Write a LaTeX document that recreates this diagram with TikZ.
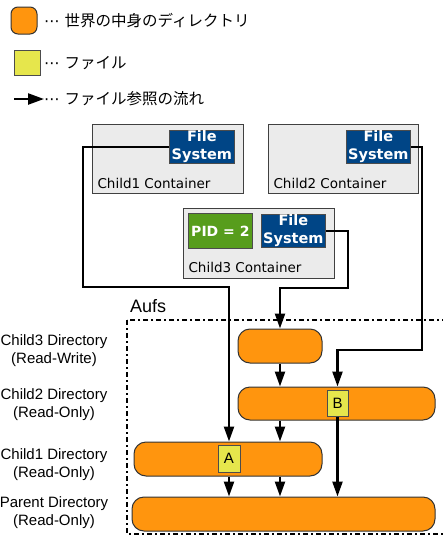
\documentclass[tikz,border=0pt]{standalone}
\usepackage{fontspec}
\setmainfont{DejaVu Sans}
\newfontfamily\labelfont{Liberation Sans}
\newfontfamily\jpfont{Noto Sans CJK JP}
\usetikzlibrary{arrows.meta}
\definecolor{dirorange}{RGB}{255,149,14}
\definecolor{fileyellow}{RGB}{230,230,76}
\definecolor{fsblue}{RGB}{0,69,134}
\definecolor{pidgreen}{RGB}{87,157,28}
\definecolor{boxgray}{RGB}{235,235,235}
\tikzset{
    flow/.style={line width=2.3pt,-{Triangle[length=15pt,width=10pt]}},
    container/.style={draw=black!75,line width=1.2pt,fill=boxgray,anchor=north west,inner sep=0pt},
    fsbox/.style={draw=black!70,line width=0.8pt,fill=fsblue,text=white,align=center,inner sep=0pt,anchor=north west,
        font=\bfseries\fontsize{14.5}{18}\selectfont,minimum width=65pt,minimum height=33pt},
    dirbox/.style={draw=black!80,line width=1pt,fill=dirorange,rounded corners=12pt,inner sep=0pt},
    filebox/.style={draw=black!70,line width=1pt,fill=fileyellow,inner sep=0pt,font=\labelfont\fontsize{15}{18}\selectfont},
    layer/.style={align=center,font=\labelfont\fontsize{15}{18}\selectfont},
    cname/.style={anchor=base west,font=\fontsize{13.5}{16}\selectfont},
    legend/.style={anchor=west,inner sep=0pt,font=\fontsize{15.5}{17}\selectfont}
}
\begin{document}
\begin{tikzpicture}[x=1pt,y=-1pt]
    \useasboundingbox (0,0) rectangle (443,536);
    % legend
    \node[draw=black!80,line width=1pt,fill=dirorange,rounded corners=7pt,minimum width=26pt,minimum height=27pt] (lorange) at (24,20.5) {};
    \node[legend] (ltext1) at (44,21) {⋯ \jpfont 世界の中身のディレクトリ};
    \node[filebox,minimum width=26pt,minimum height=25pt] (lyellow) at (27,62.5) {};
    \node[legend] (ltext2) at (44,63) {⋯ \jpfont ファイル};
    \coordinate (larrow) at (14,99);
    \node[legend] (ltext3) at (44,99) {⋯ \jpfont ファイル参照の流れ};
    \draw[flow,-{Triangle[length=16pt,width=11pt]}] (larrow) -- (ltext3.west);
    % containers
    \node[container,minimum width=151pt,minimum height=69pt] (c1box) at (92,124) {};
    \node[fsbox] (fs1) at (169,130) {File\\System};
    \node[cname] at (94,188) {Child1 Container};
    \node[container,minimum width=150pt,minimum height=69pt] (c2box) at (268,124) {};
    \node[fsbox,minimum width=64pt] (fs2) at (346,130) {File\\System};
    \node[cname] at (270,188) {Child2 Container};
    \node[container,minimum width=151pt,minimum height=70pt] (c3box) at (183,208) {};
    \node[fsbox,minimum width=64pt,fill=pidgreen,minimum height=35pt,font=\bfseries\fontsize{14}{16}\selectfont] (pid) at (188,213) {PID = 2};
    \node[fsbox,minimum width=64pt] (fs3) at (261,214) {File\\System};
    \node[cname] at (185,272) {Child3 Container};
    % aufs
    \draw[line width=1.8pt,dash pattern=on 5pt off 3pt on 2pt off 3pt] (127,320) rectangle (450,534);
    \node[anchor=base west,inner sep=0pt,font=\labelfont\fontsize{18}{20}\selectfont] (aufs) at (130,312.5) {Aufs};
    \node[dirbox,minimum width=84pt,minimum height=34pt] (c3dir) at (280,346) {};
    \node[dirbox,minimum width=197pt,minimum height=33pt] (c2dir) at (336.5,403.5) {};
    \node[dirbox,minimum width=188pt,minimum height=34pt] (c1dir) at (228,459) {};
    \node[dirbox,minimum width=303pt,minimum height=34pt] (pdir) at (283.5,514) {};
    \node[filebox,minimum width=21pt,minimum height=26pt] (boxB) at (337.5,403) {B};
    \node[filebox,minimum width=22pt,minimum height=27pt] (boxA) at (229,458.5) {A};
    \foreach \y/\t/\m in {351/Child3 Directory/Read-Write,405/Child2 Directory/Read-Only,
        465/Child1 Directory/Read-Only,513/Parent Directory/Read-Only}
    {
        \node[layer] (lab\y) at (54,\y) {\t\\(\m)};
    }
    % flows
    \coordinate (bend1) at (83,287);
    \coordinate (bend2) at (422,350);
    \coordinate (bend3) at (348,288);
    \draw[flow] (fs1.west) -| (bend1) -| (boxA.north |- c1dir.north);
    \draw[flow] (fs2.east) -| (bend2) -| (boxB.north |- c2dir.north);
    \draw[flow] (fs3.east) -| (bend3) -| (c3dir.north);
    \draw[flow] (c3dir.south) -- (c2dir.north -| c3dir.south);
    \draw[flow] (c2dir.south -| c3dir.south) -- (c1dir.north -| c3dir.south);
    \draw[flow] (c1dir.south -| boxA.south) -- (pdir.north -| boxA.south);
    \draw[flow] (c1dir.south -| c3dir.south) -- (pdir.north -| c3dir.south);
    \draw[flow] (boxB.south) -- (pdir.north -| boxB.south);
\end{tikzpicture}
\end{document}
